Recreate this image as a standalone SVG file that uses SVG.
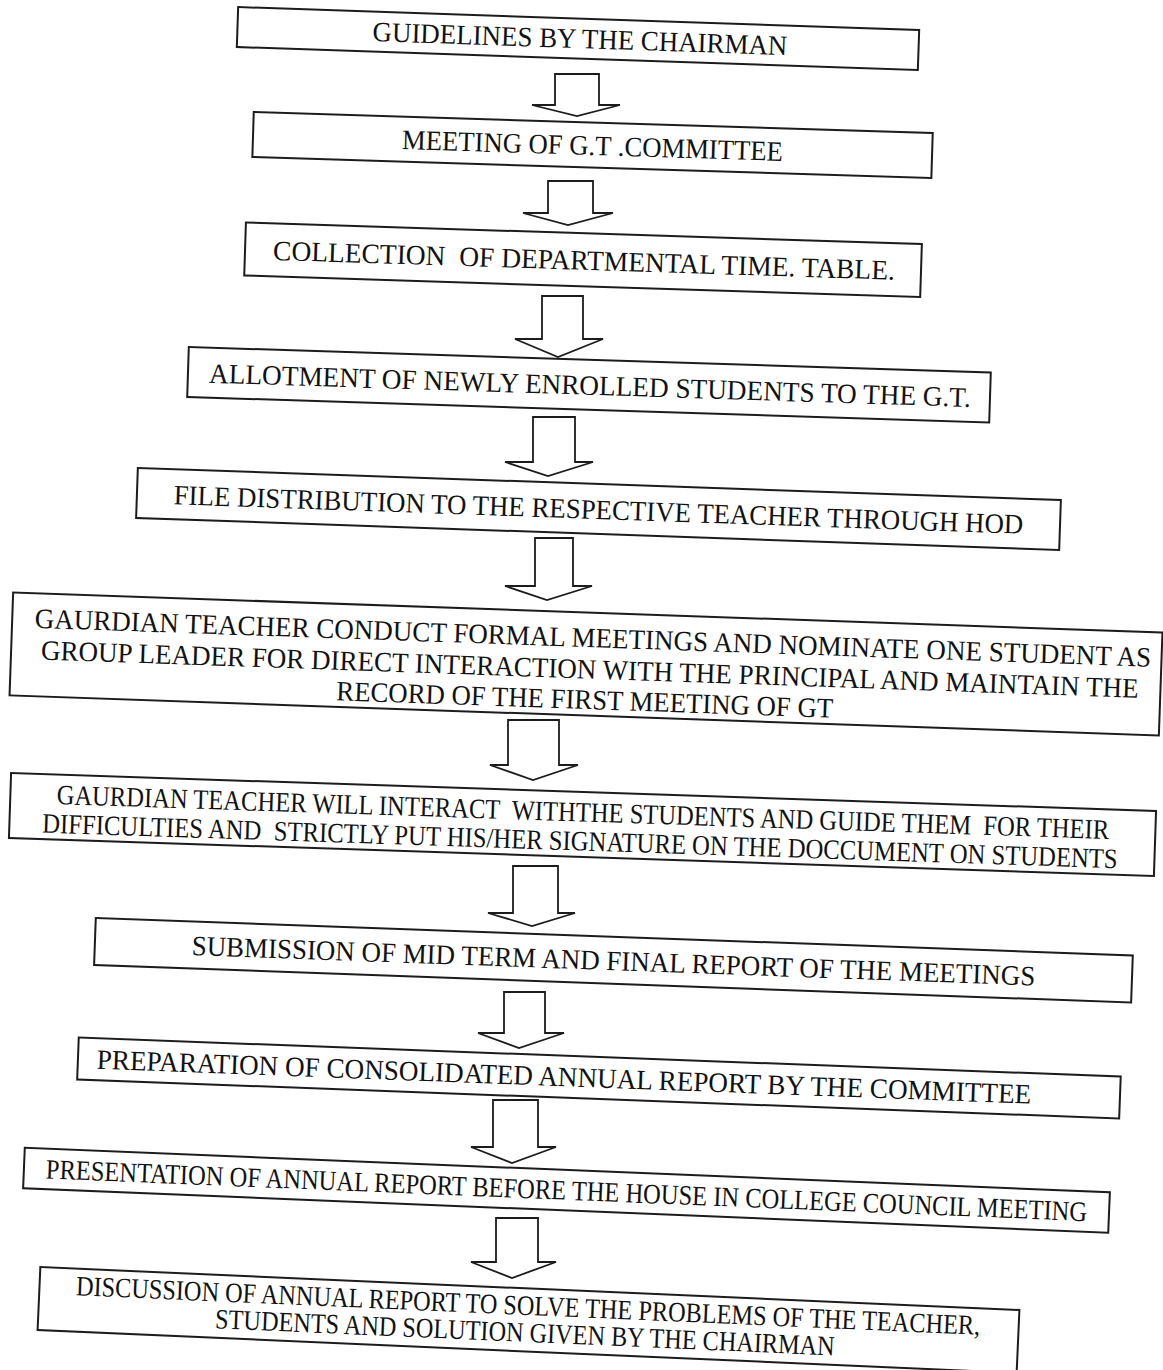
<svg xmlns="http://www.w3.org/2000/svg" width="1163" height="1370" viewBox="0 0 1163 1370">
<style>
.box{fill:none;stroke:#1c1c1c;stroke-width:2}
.arr{fill:#fff;stroke:#1c1c1c;stroke-width:1.8;stroke-linejoin:miter}
.t{font-family:"Liberation Serif","Times New Roman",serif;font-size:28px;fill:#121212;text-anchor:middle}
</style>
<rect x="0" y="0" width="1163" height="1370" fill="#fff"/>
<g id="connectors">
<polygon class="arr" points="555,74 599,74 599,105 620,105 577,116 532,105 555,105"/>
<polygon class="arr" points="548,181 593,181 593,213 613,213 568,225 523,213 548,213"/>
<polygon class="arr" points="542,296 583,296 583,339 603,339 558,357 515,339 542,339"/>
<polygon class="arr" points="533,417 575,417 575,462 593,462 548,476 505,462 533,462"/>
<polygon class="arr" points="535,538 573,538 573,586 592,586 547,600 505,586 535,586"/>
<polygon class="arr" points="508,720 559,720 559,765 578,765 533,780 490,765 508,765"/>
<polygon class="arr" points="513,866 558,866 558,913 575,913 532,926 488,913 513,913"/>
<polygon class="arr" points="504,992 545,992 545,1033 564,1033 519,1048 478,1033 504,1033"/>
<polygon class="arr" points="493,1100 538,1100 538,1147 556,1147 512,1163 471,1147 493,1147"/>
<polygon class="arr" points="496,1218 538,1218 538,1262 556,1262 512,1278 471,1262 496,1262"/>
</g>
<g id="n1" transform="translate(578 38.5) rotate(1.93)">
<rect class="box" x="-340.7" y="-20" width="681.4" height="40"/>
<text class="t" x="2" y="9.5" textLength="415" lengthAdjust="spacingAndGlyphs">GUIDELINES BY THE CHAIRMAN</text>
</g>
<g id="n2" transform="translate(592.5 145) rotate(1.77)">
<rect class="box" x="-339.6" y="-22.5" width="679.3" height="45"/>
<text class="t" x="0" y="10" textLength="381" lengthAdjust="spacingAndGlyphs">MEETING OF G.T .COMMITTEE</text>
</g>
<g id="n3" transform="translate(583 259.75) rotate(1.82)">
<rect class="box" x="-338.1" y="-26.5" width="676.3" height="53"/>
<text class="t" x="1" y="10" textLength="622" lengthAdjust="spacingAndGlyphs" xml:space="preserve">COLLECTION  OF DEPARTMENTAL TIME. TABLE.</text>
</g>
<g id="n4" transform="translate(589 384.75) rotate(1.82)">
<rect class="box" x="-401.2" y="-25" width="802.4" height="50"/>
<text class="t" x="1" y="10" textLength="762" lengthAdjust="spacingAndGlyphs">ALLOTMENT OF NEWLY ENROLLED STUDENTS TO THE G.T.</text>
</g>
<g id="n5" transform="translate(598.5 509) rotate(1.99)">
<rect class="box" x="-461.8" y="-25" width="923.6" height="50"/>
<text class="t" x="0" y="10" textLength="850" lengthAdjust="spacingAndGlyphs">FILE DISTRIBUTION TO THE RESPECTIVE TEACHER THROUGH HOD</text>
</g>
<g id="n6" transform="translate(586 664) rotate(2)">
<rect class="box" x="-575" y="-51.5" width="1150" height="103"/>
<text class="t" x="6" y="-17" textLength="1117" lengthAdjust="spacingAndGlyphs">GAURDIAN TEACHER CONDUCT FORMAL MEETINGS AND NOMINATE ONE STUDENT AS</text>
<text class="t" x="4" y="14.5" textLength="1098" lengthAdjust="spacingAndGlyphs">GROUP LEADER FOR DIRECT INTERACTION WITH THE PRINCIPAL AND MAINTAIN THE</text>
<text class="t" x="0" y="45" textLength="497" lengthAdjust="spacingAndGlyphs">RECORD OF THE FIRST MEETING OF GT</text>
</g>
<g id="n7" transform="translate(582.5 824.5) rotate(1.9)">
<rect class="box" x="-572.8" y="-32.5" width="1145.6" height="65"/>
<text class="t" x="0" y="-3" textLength="1053" lengthAdjust="spacingAndGlyphs" xml:space="preserve">GAURDIAN TEACHER WILL INTERACT  WITHTHE STUDENTS AND GUIDE THEM  FOR THEIR</text>
<text class="t" x="-2" y="26" textLength="1076" lengthAdjust="spacingAndGlyphs" xml:space="preserve">DIFFICULTIES AND  STRICTLY PUT HIS/HER SIGNATURE ON THE DOCCUMENT ON STUDENTS</text>
</g>
<g id="n8" transform="translate(613.5 960.25) rotate(2.07)">
<rect class="box" x="-518.9" y="-23.5" width="1037.7" height="47"/>
<text class="t" x="0" y="10" textLength="844" lengthAdjust="spacingAndGlyphs">SUBMISSION OF MID TERM AND FINAL REPORT OF THE MEETINGS</text>
</g>
<g id="n9" transform="translate(599 1078) rotate(2.14)">
<rect class="box" x="-521.4" y="-21" width="1042.7" height="42"/>
<text class="t" x="-35" y="9.5" textLength="935" lengthAdjust="spacingAndGlyphs">PREPARATION OF CONSOLIDATED ANNUAL REPORT BY THE COMMITTEE</text>
</g>
<g id="n10" transform="translate(566.5 1190.25) rotate(2.35)">
<rect class="box" x="-543" y="-20.25" width="1086" height="40.5"/>
<text class="t" x="0" y="9.5" textLength="1042" lengthAdjust="spacingAndGlyphs">PRESENTATION OF ANNUAL REPORT BEFORE THE HOUSE IN COLLEGE COUNCIL MEETING</text>
</g>
<g id="n11" transform="translate(528.5 1320) rotate(2.51)">
<rect class="box" x="-490" y="-31.5" width="980" height="63"/>
<text class="t" x="-1" y="-5" textLength="905" lengthAdjust="spacingAndGlyphs">DISCUSSION OF ANNUAL REPORT TO SOLVE THE PROBLEMS OF THE TEACHER,</text>
<text class="t" x="-3" y="22" textLength="620" lengthAdjust="spacingAndGlyphs">STUDENTS AND SOLUTION GIVEN BY THE CHAIRMAN</text>
</g>
</svg>
